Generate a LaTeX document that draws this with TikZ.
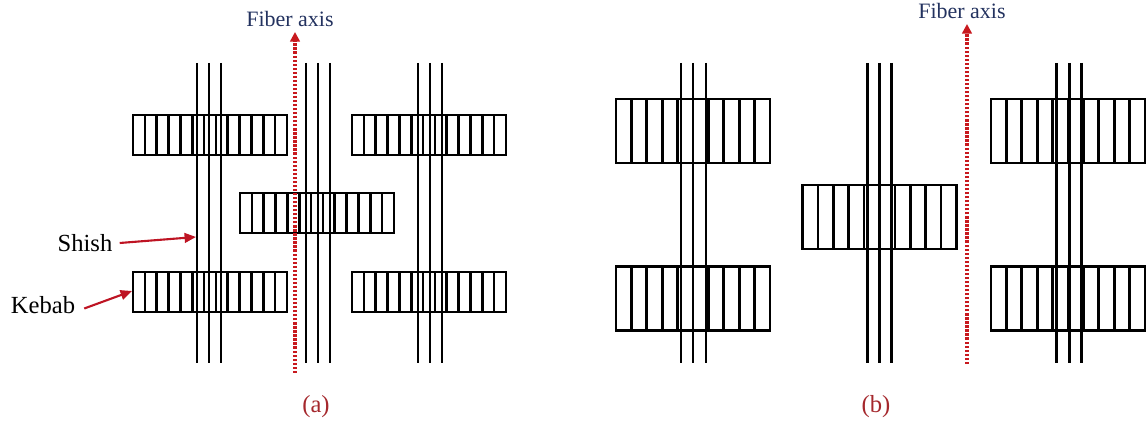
\documentclass[tikz,border=0pt]{standalone}
\usepackage{fontspec}
\setmainfont{Liberation Serif}
\usetikzlibrary{arrows.meta,calc}
\definecolor{axisred}{RGB}{200,25,30}
\definecolor{arrred}{RGB}{190,20,35}
\definecolor{navyblue}{RGB}{35,50,95}
\definecolor{capred}{RGB}{165,40,45}
\begin{document}
\begin{tikzpicture}[x=0.02cm,y=-0.02cm,
  shishline/.style={line width=1.7pt,black},
  kebabline/.style={line width=1.5pt,black},
  kebabA/.style={draw,line width=1.5pt,inner sep=0pt,outer sep=0pt,
    minimum width=3.08cm,minimum height=0.8cm,
    path picture={\foreach \i in {1,...,12}{\draw[kebabline]
      ($(path picture bounding box.north west)!{\i/13}!(path picture bounding box.north east)$) --
      ($(path picture bounding box.south west)!{\i/13}!(path picture bounding box.south east)$);}}},
  kebabB/.style={draw,line width=1.5pt,inner sep=0pt,outer sep=0pt,
    minimum width=3.08cm,minimum height=1.28cm,
    path picture={\foreach \i in {1,...,9}{\draw[kebabline]
      ($(path picture bounding box.north west)!{\i/10}!(path picture bounding box.north east)$) --
      ($(path picture bounding box.south west)!{\i/10}!(path picture bounding box.south east)$);}}},
  fiber/.style={axisred,line width=1.9pt,dash pattern=on 1.3pt off 1pt,
    -{Triangle[width=5.5pt,length=5.5pt]}},
  fiberlbl/.style={navyblue,font=\fontsize{12.5}{14}\selectfont,inner sep=1pt},
  lbl/.style={black,font=\fontsize{14}{16}\selectfont,inner sep=2pt},
  lblarrow/.style={arrred,line width=1.2pt,-{Triangle[width=5.5pt,length=6.5pt]}},
  caption/.style={capred,font=\fontsize{14}{16}\selectfont}]
\useasboundingbox (0,0) rectangle (1147,421);
% ---------------- panel (a) ----------------
\foreach \x in {197,209,221,306,318,330,418,430,442}
  \draw[shishline] (\x,63) -- (\x,363);
\node[kebabA] (ka1) at (210,135) {};
\node[kebabA] (ka2) at (429,135) {};
\node[kebabA] (ka3) at (317,213) {};
\node[kebabA] (ka4) at (210,292) {};
\node[kebabA] (ka5) at (429,292) {};
\coordinate (fa-bot) at (295,373);
\coordinate (fa-top) at (295,32);
\draw[fiber] (fa-bot) -- (fa-top);
\node[fiberlbl] (fa-lbl) at (290,19) {Fiber axis};
\node[lbl] (shishlbl) at (85,243) {Shish};
\coordinate (shishtip) at (196,237);
\draw[lblarrow] ([xshift=2pt]shishlbl.east) -- (shishtip);
\node[lbl] (kebablbl) at (43,305) {Kebab};
\coordinate (kebabtip) at (132,291);
\draw[lblarrow] ([xshift=3pt,yshift=-2pt]kebablbl.east) -- (kebabtip);
\node[caption] (capa) at (316,407) {(a)};
% ---------------- panel (b) ----------------
\foreach \x in {681,693,706,867,879,891,1056,1069,1081}
  \draw[shishline] (\x,63) -- (\x,363);
\node[kebabB] (kb1) at (693,131) {};
\node[kebabB] (kb2) at (693,298.5) {};
\node[kebabB] (kb3) at (879.5,217) {};
\node[kebabB] (kb4) at (1068,131) {};
\node[kebabB] (kb5) at (1068,298.5) {};
\coordinate (fb-bot) at (967,364);
\coordinate (fb-top) at (967,24);
\draw[fiber] (fb-bot) -- (fb-top);
\node[fiberlbl] (fb-lbl) at (962,11) {Fiber axis};
\node[caption] (capb) at (876,407) {(b)};
\end{tikzpicture}
\end{document}
